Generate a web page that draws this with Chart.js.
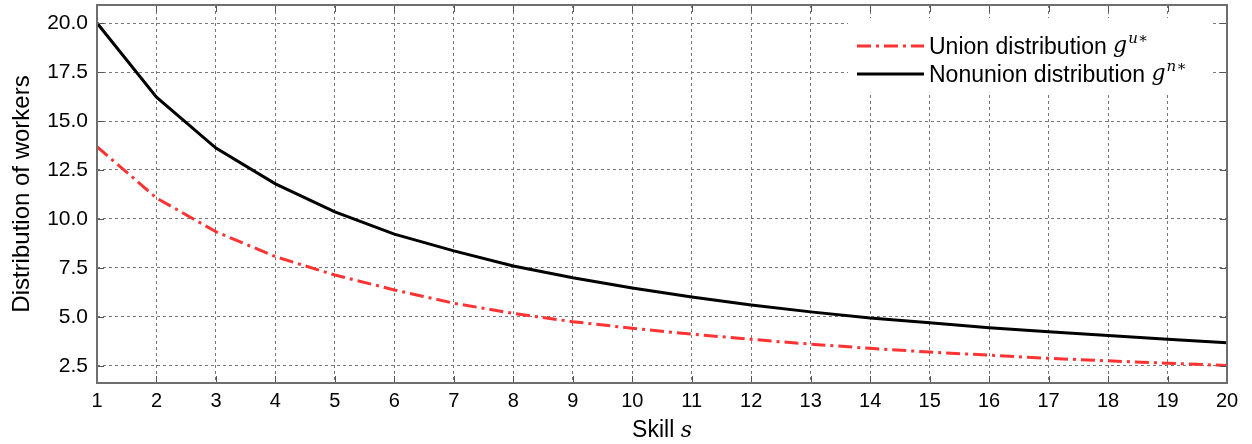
<!DOCTYPE html>
<html>
<head>
<meta charset="utf-8">
<script src="https://cdn.jsdelivr.net/npm/chart.js@4.4.0/dist/chart.umd.min.js"></script>
<style>
  html, body { margin: 0; padding: 0; background: #fff; }
  #wrap { width: 1252px; height: 444px; }
</style>
</head>
<body>
<div id="wrap"><canvas id="chart"></canvas></div>
<script>
var skill = [1, 2, 3, 4, 5, 6, 7, 8, 9, 10, 11, 12, 13, 14, 15, 16, 17, 18, 19, 20];
var union_dist = [13.69, 11.07, 9.35, 8.08, 7.14, 6.38, 5.70, 5.18, 4.76, 4.42, 4.12, 3.86, 3.61, 3.40, 3.21, 3.05, 2.89, 2.76, 2.64, 2.52];
var nonunion_dist = [20.0, 16.22, 13.62, 11.79, 10.36, 9.23, 8.37, 7.60, 7.00, 6.48, 6.02, 5.61, 5.26, 4.95, 4.71, 4.45, 4.25, 4.05, 3.86, 3.69];
var y_ticks = [2.5, 5.0, 7.5, 10.0, 12.5, 15.0, 17.5, 20.0];
var x_ticks = skill;

var fontName = "'Liberation Sans', Arial, sans-serif";
var mathFamily = "'DejaVu Serif', 'Liberation Serif', serif";

function toPoints(arr) {
	return skill.map(function(s, i) { return { x: s, y: arr[i] }; });
}

// frame, inner tick marks, legend and x title
var extras = {
	id: 'extras',
	afterDraw: function(chart) {
		var ctx = chart.ctx;
		var a = chart.chartArea;
		var xs = chart.scales.x, ys = chart.scales.y;
		ctx.save();

		ctx.strokeStyle = '#555';
		ctx.lineWidth = 1;
		x_ticks.forEach(function(v) {
			var px = Math.round(xs.getPixelForValue(v)) + 0.5;
			ctx.beginPath();
			ctx.moveTo(px, a.bottom); ctx.lineTo(px, a.bottom - 7);
			ctx.moveTo(px, a.top); ctx.lineTo(px, a.top + 7);
			ctx.stroke();
		});
		y_ticks.forEach(function(v) {
			var py = Math.round(ys.getPixelForValue(v)) + 0.5;
			ctx.beginPath();
			ctx.moveTo(a.left, py); ctx.lineTo(a.left + 7, py);
			ctx.moveTo(a.right, py); ctx.lineTo(a.right - 7, py);
			ctx.stroke();
		});

		// legend box
		ctx.fillStyle = '#fff';
		ctx.fillRect(848, 18, 364, 77);
		var items = [
			{ ds: chart.data.datasets[0], sup: 'u\u2217', y: 46 },
			{ ds: chart.data.datasets[1], sup: 'n\u2217', y: 74 }
		];
		items.forEach(function(it) {
			ctx.strokeStyle = it.ds.borderColor;
			ctx.lineWidth = it.ds.borderWidth;
			ctx.setLineDash(it.ds.borderDash || []);
			ctx.beginPath();
			ctx.moveTo(857, it.y); ctx.lineTo(924, it.y);
			ctx.stroke();
			ctx.setLineDash([]);
			ctx.fillStyle = '#000';
			ctx.textBaseline = 'alphabetic';
			ctx.textAlign = 'left';
			ctx.font = '23px ' + fontName;
			var txt = it.ds.label + ' ';
			ctx.fillText(txt, 929, it.y + 8);
			var w = ctx.measureText(txt).width;
			ctx.font = 'italic 22px ' + mathFamily;
			ctx.fillText('g', 929 + w, it.y + 6);
			var gw = ctx.measureText('g').width;
			ctx.font = 'italic 15px ' + mathFamily;
			ctx.fillText(it.sup, 929 + w + gw + 1, it.y - 3);
		});

		// x axis title "Skill s"
		ctx.fillStyle = '#000';
		ctx.textBaseline = 'alphabetic';
		ctx.font = '23px ' + fontName;
		var t1 = 'Skill ';
		var w1 = ctx.measureText(t1).width;
		ctx.font = 'italic 22px ' + mathFamily;
		var w2 = ctx.measureText('s').width;
		var sx = (a.left + a.right) / 2 - (w1 + w2) / 2;
		ctx.font = '23px ' + fontName;
		ctx.textAlign = 'left';
		ctx.fillText(t1, sx, 437);
		ctx.font = 'italic 22px ' + mathFamily;
		ctx.fillText('s', sx + w1, 437);

		// frame
		ctx.strokeStyle = '#6e6e6e';
		ctx.lineWidth = 2;
		ctx.strokeRect(a.left, a.top, a.right - a.left, a.bottom - a.top);
		ctx.restore();
	}
};

new Chart(document.getElementById('chart'), {
	type: 'line',
	data: {
		datasets: [
			{
				label: 'Union distribution',
				data: toPoints(union_dist),
				borderColor: '#ff3333',
				borderWidth: 3,
				borderDash: [14, 5, 3, 5],
				pointRadius: 0,
				tension: 0,
				fill: false
			},
			{
				label: 'Nonunion distribution',
				data: toPoints(nonunion_dist),
				borderColor: '#000000',
				borderWidth: 3,
				pointRadius: 0,
				tension: 0,
				fill: false
			}
		]
	},
	options: {
		responsive: true,
		maintainAspectRatio: false,
		animation: false,
		layout: { padding: { top: 5, right: 25, left: 0, bottom: 0 } },
		plugins: {
			legend: { display: false },
			tooltip: { enabled: false }
		},
		scales: {
			x: {
				type: 'linear',
				min: 1,
				max: 20,
				afterBuildTicks: function(scale) {
					scale.ticks = x_ticks.map(function(v) { return { value: v }; });
				},
				afterFit: function(scale) {
					scale.height = 61;
					scale.paddingLeft = 0;
					scale.paddingRight = 0;
				},
				ticks: {
					color: '#000',
					font: { family: fontName, size: 20 },
					maxRotation: 0,
					padding: 6,
					callback: function(v) { return v; }
				},
				grid: {
					color: '#777',
					lineWidth: 1,
					drawTicks: false,
					tickLength: 0
				},
				border: { display: false, dash: [3, 3] },
				title: { display: false }
			},
			y: {
				type: 'linear',
				min: 1.63,
				max: 20.92,
				afterBuildTicks: function(scale) {
					scale.ticks = y_ticks.map(function(v) { return { value: v }; });
				},
				afterFit: function(scale) {
					scale.width = 97;
					scale.paddingTop = 0;
					scale.paddingBottom = 0;
				},
				ticks: {
					color: '#000',
					font: { family: fontName, size: 21 },
					padding: 9,
					callback: function(v) { return v.toFixed(1); }
				},
				grid: {
					color: '#777',
					lineWidth: 1,
					drawTicks: false,
					tickLength: 0
				},
				border: { display: false, dash: [3, 3] },
				title: {
					display: true,
					text: 'Distribution of workers',
					color: '#000',
					font: { family: fontName, size: 24 },
					padding: { top: 8, bottom: 0 }
				}
			}
		}
	},
	plugins: [extras]
});
</script>
</body>
</html>
